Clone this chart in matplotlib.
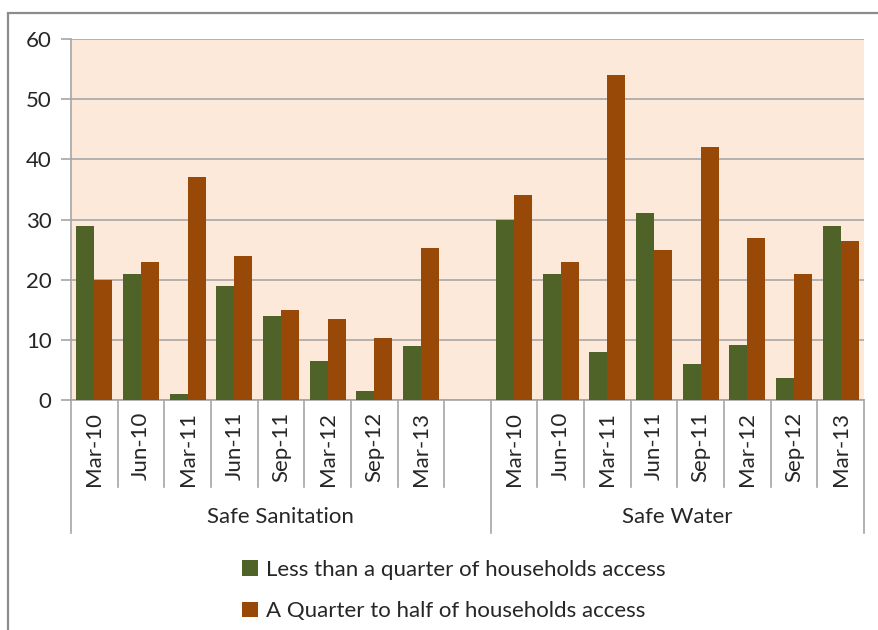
import matplotlib
matplotlib.use("Agg")
import matplotlib.pyplot as plt
import matplotlib.patches as mpatches
import matplotlib.transforms as mtransforms
import numpy as np

plt.rcParams['font.family'] = ['Lato', 'DejaVu Sans']

# data
periods = ["Mar-10", "Jun-10", "Mar-11", "Jun-11", "Sep-11", "Mar-12", "Sep-12", "Mar-13"]
groups = ["Safe Sanitation", "Safe Water"]
series_names = ["Less than a quarter of households access",
                "A Quarter to half of households access"]

sanitation_low = [29, 21, 1, 19, 14, 6.5, 1.5, 9]
sanitation_mid = [20, 23, 37, 24, 15, 13.5, 10.3, 25.2]
water_low = [30, 21, 8, 31, 6, 9.2, 3.7, 29]
water_mid = [34, 23, 54, 25, 42, 26.9, 20.9, 26.5]

green = "#4F6228"
brown = "#984807"
grid_col = "#A6A6A6"
text_col = "#262626"
fs = 16

fig = plt.figure(figsize=(8.79, 6.30), dpi=100)
ax = fig.add_axes([71/879, 1 - 400/630, (864 - 71)/879, (400 - 39)/630])
ax.set_facecolor("#FDE9D9")

# slot positions: 8 sanitation, one empty slot, 8 water
n = len(periods)
x_san = np.arange(n)
x_wat = np.arange(n) + n + 1
bw = 0.385

ax.bar(x_san - bw/2, sanitation_low, bw, color=green, zorder=3)
ax.bar(x_san + bw/2, sanitation_mid, bw, color=brown, zorder=3)
ax.bar(x_wat - bw/2, water_low, bw, color=green, zorder=3, label=series_names[0])
ax.bar(x_wat + bw/2, water_mid, bw, color=brown, zorder=3, label=series_names[1])

ax.set_xlim(-0.5, 2*n + 0.5)
ax.set_ylim(0, 60)
ax.set_yticks(range(0, 61, 10))
ax.yaxis.grid(True, color=grid_col, lw=1.2, zorder=1)
ax.tick_params(axis="y", length=7, color=grid_col, width=1.2, labelsize=fs,
               labelcolor=text_col, pad=7)
ax.set_xticks([])
for s in ["top", "right"]:
    ax.spines[s].set_visible(False)
for s in ["left", "bottom"]:
    ax.spines[s].set_color(grid_col)
    ax.spines[s].set_linewidth(1.2)

# category labels and separator lines under the axis
trans = mtransforms.blended_transform_factory(ax.transData, ax.transAxes)
for xs in (x_san, x_wat):
    for xi, lab in zip(xs, periods):
        ax.text(xi, -0.033, lab, transform=trans, rotation=90, ha="center", va="top",
                fontsize=fs, color=text_col)

short_y = -87/361
long_y = -133/361
for b in np.arange(-0.5, 2*n + 1, 1.0):
    if b in (-0.5, n + 0.5, 2*n + 0.5):
        ax.plot([b, b], [0, long_y], transform=trans, color=grid_col, lw=1.2, clip_on=False)
    else:
        ax.plot([b, b], [0, short_y], transform=trans, color=grid_col, lw=1.2, clip_on=False)

ax.text((-0.5 + n + 0.5)/2, -117/361, groups[0], transform=trans, ha="center", va="center",
        fontsize=fs, color=text_col)
ax.text((n + 0.5 + 2*n + 0.5)/2, -117/361, groups[1], transform=trans, ha="center", va="center",
        fontsize=fs, color=text_col)

# legend below the chart
fig.legend(loc="upper left", bbox_to_anchor=(222/879, 1 - 540/630), frameon=False,
           fontsize=fs, labelcolor=text_col, handlelength=0.7, handleheight=0.7,
           handletextpad=0.4, labelspacing=0.95)

# outer chart border
fig.patches.append(mpatches.Rectangle((8/879, -0.1), 1.2, 1 - 13/630 + 0.1,
                                      transform=fig.transFigure, fill=False,
                                      edgecolor="#8C8C8C", lw=1.6))

fig.savefig("out.png", dpi=100)
